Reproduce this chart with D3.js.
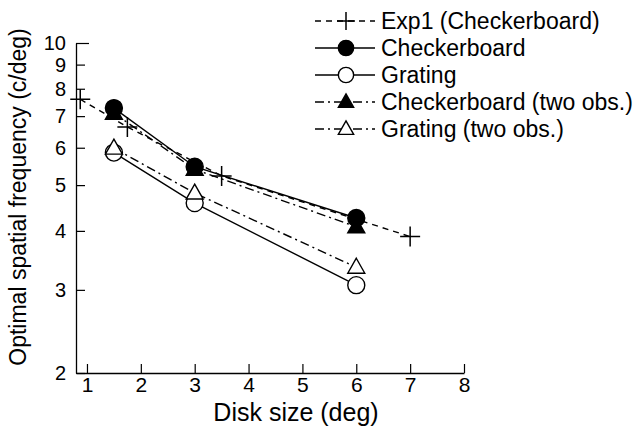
<!DOCTYPE html>
<html>
<head>
<meta charset="utf-8">
<script src="https://cdn.jsdelivr.net/npm/d3@7"></script>
<style>
  body { margin: 0; background: #fff; }
  text { font-family: "Liberation Sans", Arial, sans-serif; fill: #000; }
</style>
</head>
<body>
<svg id="chart" width="639" height="431"></svg>
<script>
// data
let exp1X = [0.875, 1.75, 3.5, 7];
let exp1Y = [7.6, 6.64, 5.23, 3.89];
let diskX = [1.5, 3, 6];
let checkY = [7.28, 5.47, 4.26];
let gratY = [5.86, 4.58, 3.07];
let check2Y = [7.1, 5.4, 4.08];
let grat2Y = [5.99, 4.81, 3.35];
let xTicks = [1, 2, 3, 4, 5, 6, 7, 8];
let yTicks = [2, 3, 4, 5, 6, 7, 8, 9, 10];

let series = [
    { name: 'Exp1 (Checkerboard)', xs: exp1X, ys: exp1Y, marker: 'cross', dash: '6,5' },
    { name: 'Checkerboard', xs: diskX, ys: checkY, marker: 'dot', dash: null },
    { name: 'Grating', xs: diskX, ys: gratY, marker: 'circle', dash: null },
    { name: 'Checkerboard (two obs.)', xs: diskX, ys: check2Y, marker: 'tri', dash: '9,4,2,4' },
    { name: 'Grating (two obs.)', xs: diskX, ys: grat2Y, marker: 'otri', dash: '9,4,2,4' }
];

let svg = d3.select('#chart');

let xScale = d3.scaleLinear().domain([0.8, 8]).range([76.2, 464]);
let yScale = d3.scaleLog().domain([2, 10]).range([373, 43]);

// axes: ticks pointing inward
let xAxis = svg.append('g')
    .attr('transform', 'translate(0,373)')
    .call(d3.axisBottom(xScale).tickValues(xTicks).tickSizeInner(-9).tickSizeOuter(0).tickPadding(4));
let yAxis = svg.append('g')
    .attr('transform', 'translate(76,0)')
    .call(d3.axisLeft(yScale).tickValues(yTicks).tickFormat(d3.format('d')).tickSizeInner(-9).tickSizeOuter(0).tickPadding(10));

[xAxis, yAxis].forEach(a => {
    a.select('.domain').attr('stroke', '#000').attr('stroke-width', 1.3);
    a.selectAll('.tick line').attr('stroke', '#000').attr('stroke-width', 1.2);
    a.selectAll('.tick text').attr('font-family', '"Liberation Sans", Arial, sans-serif').attr('fill', '#000');
});
xAxis.selectAll('.tick text').attr('font-size', 21);
yAxis.selectAll('.tick text').attr('font-size', 20);
yAxis.select('.tick:last-of-type line').attr('x2', 13);

// axis titles
svg.append('text')
    .attr('x', 296).attr('y', 421)
    .attr('text-anchor', 'middle')
    .attr('font-size', 25)
    .text('Disk size (deg)');
svg.append('text')
    .attr('transform', 'translate(26,197) rotate(-90)')
    .attr('text-anchor', 'middle')
    .attr('font-size', 23)
    .text('Optimal spatial frequency (c/deg)');

let line = d3.line().x(d => xScale(d[0])).y(d => yScale(d[1]));

let drawMarker = (g, type, x, y, s) => {
    if (type === 'cross') {
        g.append('path')
            .attr('d', `M${x - s},${y}H${x + s}M${x},${y - s}V${y + s}`)
            .attr('stroke', '#000').attr('stroke-width', 1.5).attr('fill', 'none');
    } else if (type === 'dot' || type === 'circle') {
        g.append('circle').attr('cx', x).attr('cy', y).attr('r', s * 0.85)
            .attr('fill', type === 'dot' ? '#000' : '#fff')
            .attr('stroke', '#000').attr('stroke-width', 1.4);
    } else {
        let h = s * 1.5;
        g.append('path')
            .attr('d', `M${x},${y - h * 0.6}L${x + s * 0.85},${y + h * 0.4}L${x - s * 0.85},${y + h * 0.4}Z`)
            .attr('fill', type === 'tri' ? '#000' : '#fff')
            .attr('stroke', '#000').attr('stroke-width', 1.4);
    }
};

// lines
series.forEach(s => {
    svg.append('path')
        .datum(s.xs.map((x, i) => [x, s.ys[i]]))
        .attr('d', line)
        .attr('fill', 'none')
        .attr('stroke', '#000')
        .attr('stroke-width', 1.4)
        .attr('stroke-dasharray', s.dash);
});

// markers: triangles under filled dots, open triangles over open circles
let marks = svg.append('g');
let order = [0, 3, 1, 2, 4];
order.forEach(k => {
    let s = series[k];
    s.xs.forEach((x, i) => drawMarker(marks, s.marker, xScale(x), yScale(s.ys[i]), 10));
});

// legend
let legend = svg.append('g').attr('transform', 'translate(315,0)');
let rowY = [21, 48, 75, 102, 129];
series.forEach((s, i) => {
    let y = rowY[i];
    legend.append('line')
        .attr('x1', 0).attr('x2', 60).attr('y1', y).attr('y2', y)
        .attr('stroke', '#000').attr('stroke-width', 1.4)
        .attr('stroke-dasharray', s.dash);
    drawMarker(legend, s.marker, 31, y, 9);
    legend.append('text')
        .attr('x', 66).attr('y', y).attr('dy', '0.36em')
        .attr('font-size', 23)
        .text(s.name);
});
</script>
</body>
</html>
